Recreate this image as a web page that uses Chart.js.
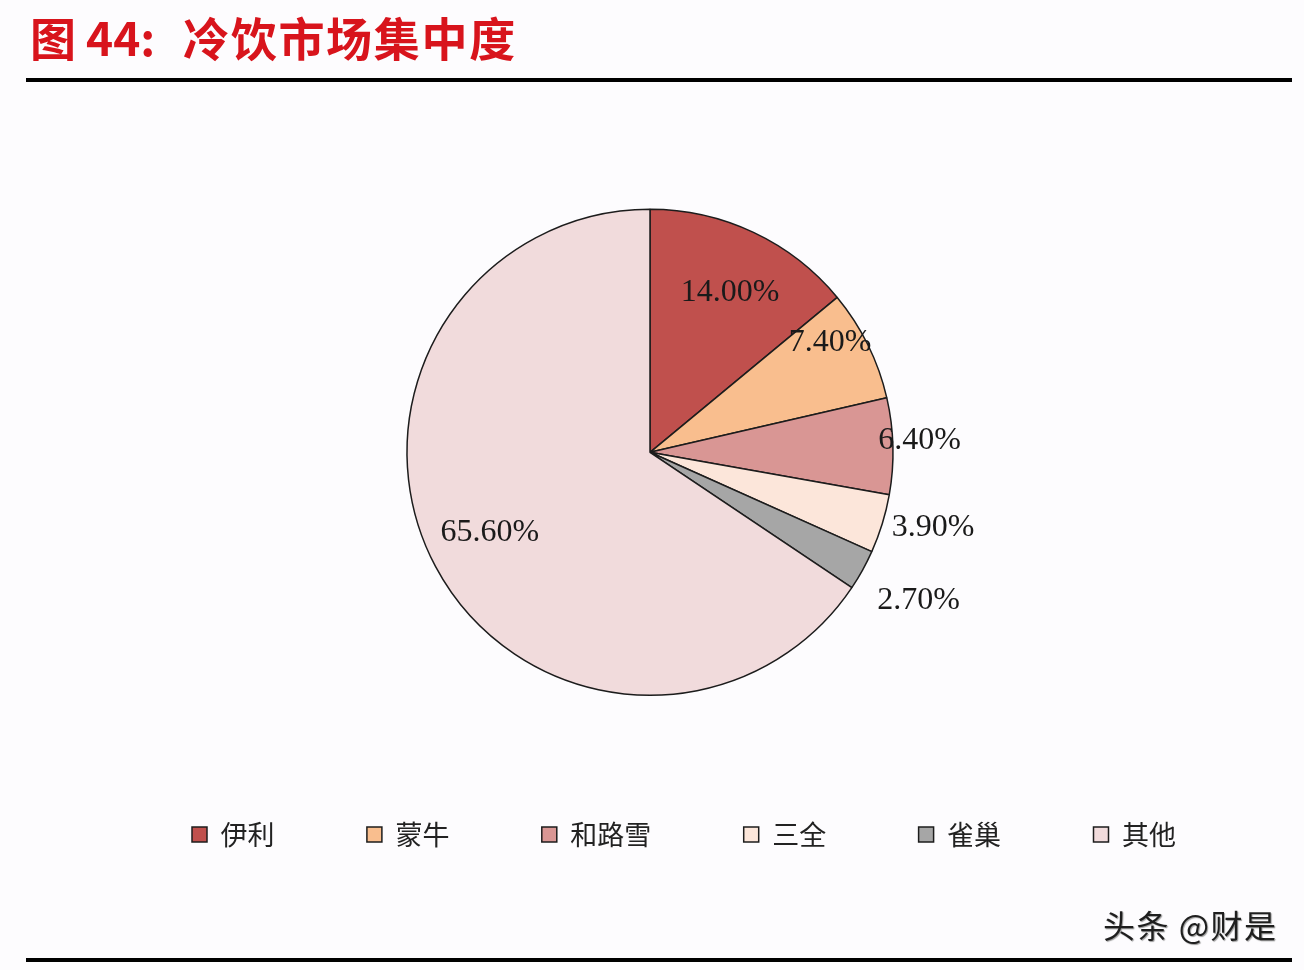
<!DOCTYPE html>
<html lang="zh">
  <head>
    <meta charset="UTF-8" />
    <title>冷饮市场集中度</title>
    <script src="https://cdn.jsdelivr.net/npm/chart.js"></script>
    <style>
      body {
        margin: 0;
        padding: 0;
        width: 1304px;
        height: 970px;
        background-color: #fdfcfe;
        overflow: hidden;
        position: relative;
        font-family: "Noto Sans CJK SC", sans-serif;
      }
      .title {
        position: absolute;
        top: 13px;
        height: 46px;
        line-height: 46px;
        font-size: 46px;
        font-weight: 700;
        color: #d8141c;
        white-space: nowrap;
      }
      .title .num {
        font-family: "Liberation Serif", serif;
      }
      .rule {
        position: absolute;
        left: 26px;
        width: 1266px;
        height: 4px;
        background-color: #000;
      }
      #chartBox {
        position: absolute;
        left: 0;
        top: 0;
        width: 1304px;
        height: 970px;
      }
      .mark {
        position: absolute;
        left: 1103px;
        top: 903px;
        font-size: 32px;
        letter-spacing: 1.5px;
        line-height: 42px;
        color: #1e1e1e;
        text-shadow: 1px 1px 1px #9a9a9a;
        white-space: nowrap;
      }
    </style>
  </head>
  <body>
    <div id="chartBox">
      <canvas id="pieChart"></canvas>
    </div>

    <div class="title" style="left: 30px">图</div>
    <div class="title num" style="left: 86px">44:</div>
    <div class="title" style="left: 183px; letter-spacing: 1.7px">冷饮市场集中度</div>
    <div class="rule" style="top: 78px"></div>

    <div class="mark">头条 @财是</div>
    <div class="rule" style="top: 958px"></div>

    <script>
      // market share, %
      const brands = ["伊利", "蒙牛", "和路雪", "三全", "雀巢", "其他"];
      const shares = [14.0, 7.4, 6.4, 3.9, 2.7, 65.6];
      const sliceColors = [
        "#c0504d",
        "#f9be8e",
        "#d99694",
        "#fce6da",
        "#a6a6a6",
        "#f1dbdc",
      ];

      // where each % label sits: fraction of radius, angle nudge in degrees
      const labelRadius = [0.737, 0.868, 1.11, 1.205, 1.263, 0.737];
      const labelNudge = [1.4, -5.1, -1.1, -2.3, 0, 1.5];

      // percent labels like the Excel original
      const pieLabels = {
        id: "pieLabels",
        afterDatasetsDraw(chart) {
          const ctx = chart.ctx;
          const meta = chart.getDatasetMeta(0);
          ctx.save();
          ctx.font = '32px "Liberation Serif", serif';
          ctx.fillStyle = "#1a1a1a";
          ctx.textAlign = "center";
          ctx.textBaseline = "middle";
          meta.data.forEach((arc, i) => {
            const p = arc.getProps(
              ["x", "y", "startAngle", "endAngle", "outerRadius"],
              true
            );
            const mid =
              (p.startAngle + p.endAngle) / 2 + (labelNudge[i] * Math.PI) / 180;
            const r = p.outerRadius * labelRadius[i];
            const value = chart.data.datasets[0].data[i];
            ctx.fillText(
              value.toFixed(2) + "%",
              p.x + Math.cos(mid) * r,
              p.y + Math.sin(mid) * r
            );
          });
          ctx.restore();
        },
      };

      // the legend row sits a bit right of the pie centre
      const legendShift = {
        id: "legendShift",
        afterLayout(chart) {
          chart.legend.left += 34;
          chart.legend.right += 34;
        },
      };

      const ctx = document.getElementById("pieChart").getContext("2d");
      new Chart(ctx, {
        type: "pie",
        data: {
          labels: brands,
          datasets: [
            {
              data: shares,
              backgroundColor: sliceColors,
              borderColor: "#1c1c1c",
              borderWidth: 1.5,
              radius: 243,
            },
          ],
        },
        options: {
          responsive: true,
          maintainAspectRatio: false,
          animation: false,
          layout: {
            padding: { top: 176, bottom: 112, left: 0, right: 4 },
          },
          plugins: {
            legend: {
              position: "bottom",
              labels: {
                boxWidth: 15,
                boxHeight: 15,
                padding: 92.4,
                color: "#222",
                font: {
                  family: '"Noto Sans CJK SC", sans-serif',
                  size: 27,
                },
              },
            },
            tooltip: { enabled: false },
          },
        },
        plugins: [pieLabels, legendShift],
      });
    </script>
  </body>
</html>
